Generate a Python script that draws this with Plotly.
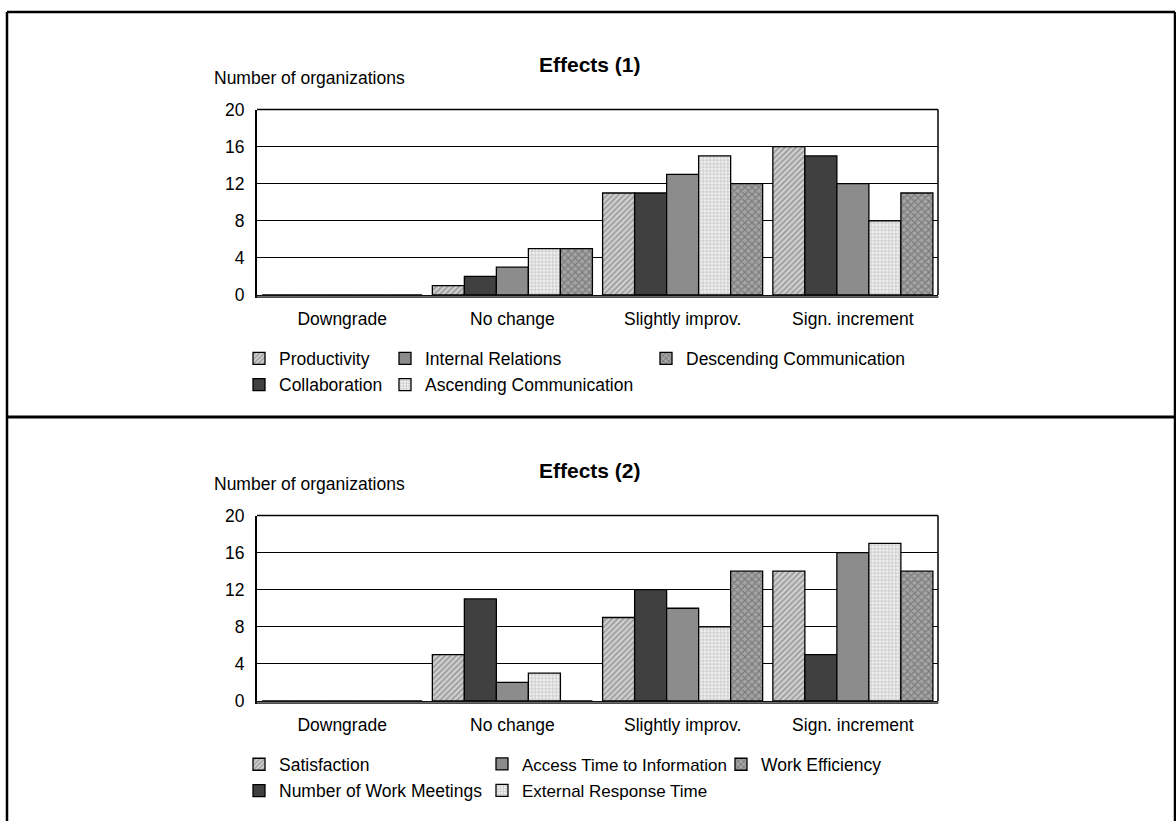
import plotly.graph_objects as go

# ---------------------------------------------------------------- data
categories = ["Downgrade", "No change", "Slightly improv.", "Sign. increment"]

# Effects (1)
productivity = [0, 1, 11, 16]
collaboration = [0, 2, 11, 15]
internal_relations = [0, 3, 13, 12]
ascending_communication = [0, 5, 15, 8]
descending_communication = [0, 5, 12, 11]

# Effects (2)
satisfaction = [0, 5, 9, 14]
work_meetings = [0, 11, 12, 5]
access_time = [0, 2, 10, 16]
external_response = [0, 3, 8, 17]
work_efficiency = [0, 0, 14, 14]

y_ticks = [0, 4, 8, 12, 16, 20]

# ---------------------------------------------------------------- geometry
W, H = 1176, 831
FONT = "Arial, 'Liberation Sans', Helvetica, sans-serif"
FS = 17.5


def fx(px):
    return px / W


def fy(py):
    return 1 - py / H


PANEL_SHIFT = 416
PLOT_L, PLOT_R = 257, 938
PLOT_T, PLOT_B = 102, 292

# fill styles shared by both panels (by series position)
styles = [
    dict(color="#b8b8b8", pattern=dict(shape="/", fgcolor="#6a6a6a", bgcolor="#d4d4d4", size=4, solidity=0.5)),
    dict(color="#404040"),
    dict(color="#8c8c8c"),
    dict(color="#dedede", pattern=dict(shape="+", fgcolor="#9c9c9c", bgcolor="#f2f2f2", size=3.5, solidity=0.45)),
    dict(color="#888888", pattern=dict(shape="x", fgcolor="#505050", bgcolor="#a4a4a4", size=5, solidity=0.4)),
]

panels = [
    dict(
        title="Effects (1)",
        axis="",
        series=[
            ("Productivity", productivity),
            ("Collaboration", collaboration),
            ("Internal Relations", internal_relations),
            ("Ascending Communication", ascending_communication),
            ("Descending Communication", descending_communication),
        ],
        # legend swatch centre (x), row (y) and font size per series
        legend_pos=[(259, 357, FS), (259, 384, FS), (405, 357, FS), (405, 384, FS), (666, 357, FS)],
    ),
    dict(
        title="Effects (2)",
        axis="2",
        series=[
            ("Satisfaction", satisfaction),
            ("Number of Work Meetings", work_meetings),
            ("Access Time to Information", access_time),
            ("External Response Time", external_response),
            ("Work Efficiency", work_efficiency),
        ],
        legend_pos=[(259, 357, FS), (259, 384, FS), (502, 357, 17), (502, 384, 17), (741, 357, FS)],
    ),
]

fig = go.Figure()
layout = dict(
    width=W,
    height=H,
    margin=dict(l=0, r=0, t=0, b=0),
    paper_bgcolor="white",
    plot_bgcolor="white",
    font=dict(family=FONT, size=FS, color="#000000"),
    barmode="group",
    bargap=0.06,
    bargroupgap=0,
    showlegend=True,
)
shapes = []
annotations = []

legend_idx = 0
for p_i, panel in enumerate(panels):
    dy = PANEL_SHIFT * p_i
    ax = panel["axis"]
    xname, yname = "x" + ax, "y" + ax

    for s_i, (name, vals) in enumerate(panel["series"]):
        legend_idx += 1
        lname = "legend" if legend_idx == 1 else f"legend{legend_idx}"
        st = styles[s_i]
        marker = dict(color=st["color"], line=dict(color="#000000", width=1.3))
        if "pattern" in st:
            marker["pattern"] = st["pattern"]
        fig.add_trace(
            go.Bar(
                x=categories,
                y=vals,
                name=name,
                marker=marker,
                xaxis=xname,
                yaxis=yname,
                legend=lname,
                offsetgroup=str(s_i),
            )
        )
        sx, sy, lfs = panel["legend_pos"][s_i]
        layout[lname] = dict(
            x=fx(sx - 20),
            y=fy(sy + dy),
            xanchor="left",
            yanchor="middle",
            orientation="v",
            bgcolor="rgba(0,0,0,0)",
            borderwidth=0,
            font=dict(family=FONT, size=lfs, color="#000000"),
        )

    y0, y1 = fy(PLOT_B + dy), fy(PLOT_T + dy)
    layout["xaxis" + ax] = dict(
        domain=[fx(PLOT_L), fx(PLOT_R)],
        anchor=yname,
        type="category",
        showgrid=False,
        showline=True,
        linecolor="#111111",
        linewidth=2.5,
        ticks="",
        ticklabelstandoff=6,
        tickfont=dict(family=FONT, size=FS),
        fixedrange=True,
    )
    layout["yaxis" + ax] = dict(
        domain=[y0, y1],
        anchor=xname,
        range=[0, 20],
        tickvals=y_ticks,
        ticks="",
        ticklabelstandoff=7,
        showgrid=True,
        gridcolor="#000000",
        gridwidth=1,
        zeroline=False,
        showline=True,
        linecolor="#000000",
        linewidth=2,
        tickfont=dict(family=FONT, size=FS),
        fixedrange=True,
    )

    # thin frame on top and right of the plot area
    shapes.append(dict(type="line", xref="paper", yref="paper",
                       x0=fx(PLOT_L), x1=fx(PLOT_R), y0=y1, y1=y1,
                       line=dict(color="#000000", width=1.5)))
    shapes.append(dict(type="line", xref="paper", yref="paper",
                       x0=fx(PLOT_R), x1=fx(PLOT_R), y0=y0, y1=y1,
                       line=dict(color="#000000", width=1.5)))
    # grey floor edge under the category axis
    shapes.append(dict(type="line", xref="paper", yref="paper",
                       x0=fx(PLOT_L), x1=fx(PLOT_R + 1), y0=fy(PLOT_B + dy + 2), y1=fy(PLOT_B + dy + 2),
                       line=dict(color="#8a8a8a", width=1.2)))

    annotations.append(dict(text="<b>" + panel["title"] + "</b>", xref="paper", yref="paper",
                            x=fx(590), y=fy(56 + dy), xanchor="center", yanchor="middle",
                            showarrow=False, font=dict(family=FONT, size=21)))
    annotations.append(dict(text="Number of organizations", xref="paper", yref="paper",
                            x=fx(212), y=fy(70 + dy), xanchor="left", yanchor="middle",
                            showarrow=False, font=dict(family=FONT, size=FS)))

# outer frame and divider between the two panels
shapes.append(dict(type="line", xref="paper", yref="paper", x0=fx(7), x1=fx(7), y0=0, y1=fy(2),
                   line=dict(color="#000000", width=2.5)))
shapes.append(dict(type="line", xref="paper", yref="paper", x0=fx(7), x1=fx(1175), y0=fy(2), y1=fy(2),
                   line=dict(color="#000000", width=2.5)))
shapes.append(dict(type="line", xref="paper", yref="paper", x0=fx(1175), x1=fx(1175), y0=0, y1=fy(2),
                   line=dict(color="#000000", width=2.5)))
shapes.append(dict(type="line", xref="paper", yref="paper", x0=fx(7), x1=fx(1176), y0=fy(417), y1=fy(417),
                   line=dict(color="#000000", width=3)))

layout["shapes"] = shapes
layout["annotations"] = annotations
fig.update_layout(**layout)

fig.write_html("out.html", config={"displayModeBar": False})
